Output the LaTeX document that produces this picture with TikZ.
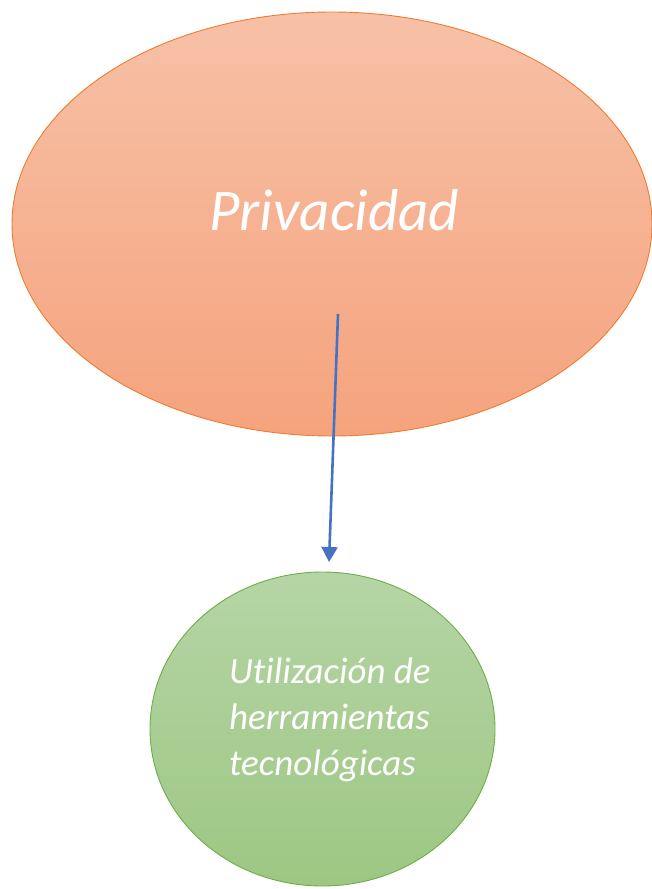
\documentclass[tikz,border=0pt]{standalone}
\usepackage{fontspec}
\setmainfont[Ligatures=NoCommon]{Carlito}
\usetikzlibrary{shapes.geometric,arrows.meta}
\definecolor{orTop}{HTML}{F7C1A7}
\definecolor{orBot}{HTML}{F5A37D}
\definecolor{orLine}{HTML}{ED7D31}
\definecolor{grTop}{HTML}{B5D5A6}
\definecolor{grBot}{HTML}{9DC783}
\definecolor{grLine}{HTML}{70AD47}
\definecolor{arrBlue}{HTML}{4472C4}
\tikzset{
  bubble/.style={ellipse, inner sep=0pt, line width=0.9pt},
  lbl/.style={text=white, font=\itshape, inner sep=0pt, anchor=base west, align=left},
  conn/.style={draw=arrBlue, line width=2.6pt, -{Triangle[length=15pt,width=16pt]}}
}
\begin{document}
\begin{tikzpicture}[x=1pt,y=1pt]
\useasboundingbox (0,0) rectangle (651,-889);
\node[bubble, draw=orLine, top color=orTop, bottom color=orBot,
      minimum width=640pt, minimum height=424pt] (priv) at (332,-224) {};
\node[bubble, draw=grLine, top color=grTop, bottom color=grBot,
      minimum width=345pt, minimum height=314pt] (util) at (322.5,-729) {};
\node[lbl, font=\fontsize{59}{64}\selectfont\itshape] (ptext) at (209,-230) {Privacidad};
\node[lbl, font=\fontsize{37}{46}\selectfont\itshape] (utext) at (229,-775) {Utilización de\\herramientas\\tecnológicas};
\coordinate (astart) at (338,-314);
\coordinate (aend) at (329,-562);
\draw[conn] (astart) -- (aend);
\end{tikzpicture}
\end{document}
